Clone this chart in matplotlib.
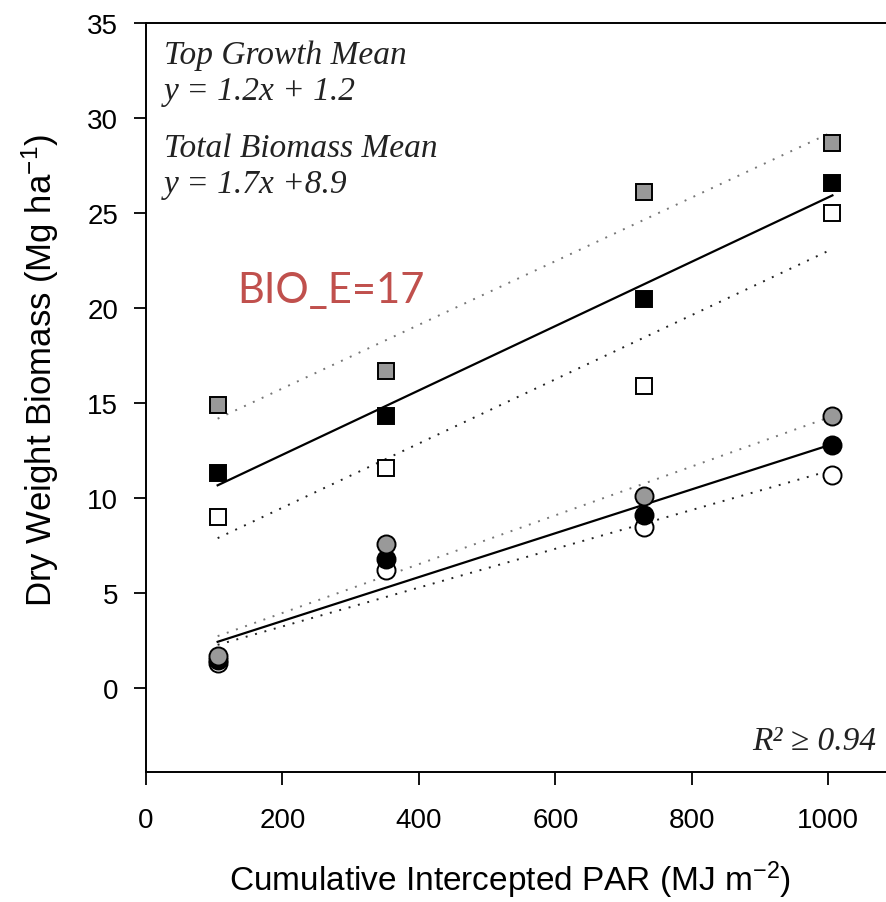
import numpy as np
import matplotlib
matplotlib.use("Agg")
import matplotlib.pyplot as plt

plt.rcParams['font.family'] = 'Liberation Sans'
plt.rcParams['mathtext.fontset'] = 'custom'
plt.rcParams['mathtext.rm'] = 'Liberation Sans'
plt.rcParams['mathtext.default'] = 'regular'

# cumulative intercepted PAR (MJ m-2)
par = [105, 352, 730, 1006]

# total biomass (squares)
total_high = [14.9, 16.7, 26.1, 28.7]
total_mean = [11.3, 14.3, 20.5, 26.6]
total_low = [9.0, 11.6, 15.9, 25.0]

# top growth (circles)
top_high = [1.7, 7.6, 10.1, 14.3]
top_mean = [1.5, 6.8, 9.1, 12.8]
top_low = [1.3, 6.2, 8.5, 11.2]

ylab = 'Dry Weight Biomass (Mg ha$^{-1}$)'
xlab = 'Cumulative Intercepted PAR (MJ m$^{-2}$)'

fig = plt.figure(figsize=(8.87, 9.03), dpi=100)
ax = fig.add_axes([146/887, 1-773/903, 1-146/887, (773-24)/903])

x = np.array(par, dtype=float)

def fit_line(y, style, color, lw):
    k, b = np.polyfit(x, y, 1)
    xs = np.array([x[0], x[-1]])
    ax.plot(xs, k*xs + b, linestyle=style, color=color, lw=lw, zorder=2)

dots = (0, (1, 4))
fit_line(total_high, dots, '#777777', 1.4)
fit_line(total_mean, '-', 'black', 1.6)
fit_line(total_low, dots, '#222222', 1.4)
fit_line(top_high, dots, '#777777', 1.4)
fit_line(top_mean, '-', 'black', 1.6)
fit_line(top_low, dots, '#222222', 1.4)

mk = dict(linestyle='none', markeredgecolor='black', markeredgewidth=1.4, zorder=3)
ax.plot(x, total_low, marker='s', ms=12, markerfacecolor='white', **mk)
ax.plot(x, total_mean, marker='s', ms=12, markerfacecolor='black', **mk)
ax.plot(x, total_high, marker='s', ms=12, markerfacecolor='#999999', **mk)
ax.plot(x, top_low, marker='o', ms=13, markerfacecolor='white', **mk)
ax.plot(x, top_mean, marker='o', ms=13, markerfacecolor='black', **mk)
ax.plot(x, top_high, marker='o', ms=13, markerfacecolor='#999999', **mk)

ax.set_xlim(0, 1086)
ax.set_ylim(-4.42, 35)
ax.set_xticks([0, 200, 400, 600, 800, 1000])
ax.set_yticks([0, 5, 10, 15, 20, 25, 30, 35])
ax.spines['right'].set_visible(False)
for s in ['left', 'bottom', 'top']:
    ax.spines[s].set_linewidth(1.4)
ax.tick_params(direction='out', length=9, width=1.3, labelsize=20)
ax.tick_params(axis='y', pad=11)
ax.tick_params(axis='x', pad=16)

fig.text(40/887, 1-370/903, ylab, rotation=90, ha='center', va='center', fontsize=25)
fig.text(510/887, 1-880/903, xlab, ha='center', va='center', fontsize=24)

serif = dict(family='Liberation Serif', style='italic', fontsize=24, color='#222222')
fig.text(164/887, 1-64/903, 'Top Growth Mean', **serif)
fig.text(164/887, 1-100/903, 'y = 1.2x + 1.2', **serif)
fig.text(164/887, 1-157/903, 'Total Biomass Mean', **serif)
fig.text(164/887, 1-193/903, 'y = 1.7x +8.9', **serif)
fig.text(876/887, 1-750/903, 'R\u00b2 \u2265 0.94', ha='right', **serif)

fig.text(237/887, 1-303/903, 'BIO_E=17', family='Lato', fontsize=30, color='#C0504D')

fig.savefig('out.png', dpi=100)
